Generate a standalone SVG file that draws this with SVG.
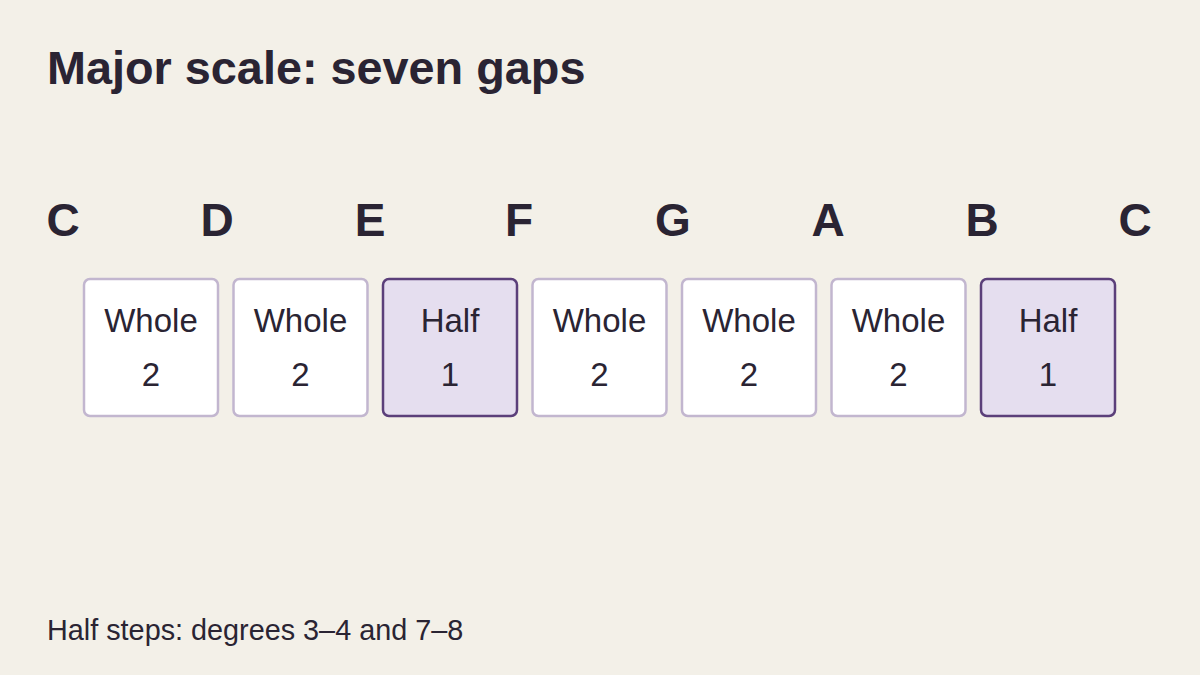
<svg xmlns="http://www.w3.org/2000/svg" width="1200" height="675" viewBox="0 0 1200 675">
<style>
text{font-family:"Liberation Sans",Arial,sans-serif;fill:#2a2433}
.title{font-size:46.8px;font-weight:bold}
.note{font-size:46px;font-weight:bold;text-anchor:middle}
.lbl{font-size:33px;text-anchor:middle}
.foot{font-size:28.8px}
.whole{fill:#ffffff;stroke:#c2b6cf;stroke-width:2.5}
.half{fill:#e5deef;stroke:#5b3f7a;stroke-width:2.5}
</style>
<rect width="1200" height="675" fill="#f3f0e8"/>
<text class="title" x="47" y="84">Major scale: seven gaps</text>
<g id="notes">
<text class="note" x="63" y="236">C</text>
<text class="note" x="217" y="236">D</text>
<text class="note" x="370" y="236">E</text>
<text class="note" x="519" y="236">F</text>
<text class="note" x="673" y="236">G</text>
<text class="note" x="828" y="236">A</text>
<text class="note" x="982" y="236">B</text>
<text class="note" x="1135" y="236">C</text>
</g>
<g id="step1"><rect class="whole" x="84" y="279" width="134" height="137" rx="6"/><text class="lbl" x="151" y="332">Whole</text><text class="lbl" x="151" y="386">2</text></g>
<g id="step2"><rect class="whole" x="233.5" y="279" width="134" height="137" rx="6"/><text class="lbl" x="300.5" y="332">Whole</text><text class="lbl" x="300.5" y="386">2</text></g>
<g id="step3"><rect class="half" x="383" y="279" width="134" height="137" rx="6"/><text class="lbl" x="450" y="332">Half</text><text class="lbl" x="450" y="386">1</text></g>
<g id="step4"><rect class="whole" x="532.5" y="279" width="134" height="137" rx="6"/><text class="lbl" x="599.5" y="332">Whole</text><text class="lbl" x="599.5" y="386">2</text></g>
<g id="step5"><rect class="whole" x="682" y="279" width="134" height="137" rx="6"/><text class="lbl" x="749" y="332">Whole</text><text class="lbl" x="749" y="386">2</text></g>
<g id="step6"><rect class="whole" x="831.5" y="279" width="134" height="137" rx="6"/><text class="lbl" x="898.5" y="332">Whole</text><text class="lbl" x="898.5" y="386">2</text></g>
<g id="step7"><rect class="half" x="981" y="279" width="134" height="137" rx="6"/><text class="lbl" x="1048" y="332">Half</text><text class="lbl" x="1048" y="386">1</text></g>
<g id="connectors"></g>
<text class="foot" x="47" y="640">Half steps: degrees 3–4 and 7–8</text>
</svg>
